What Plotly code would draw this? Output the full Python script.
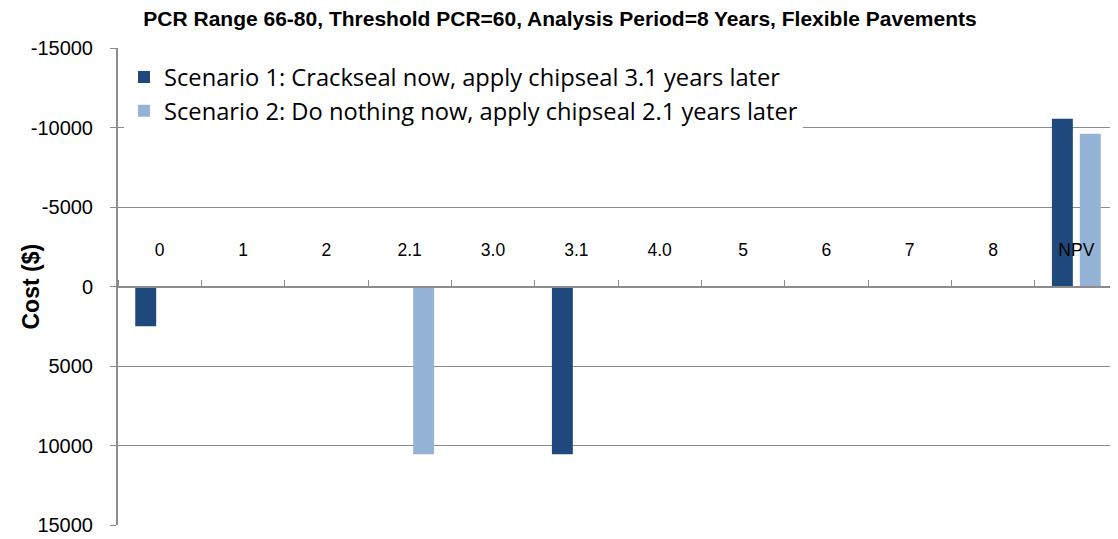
import plotly.graph_objects as go

categories = ["0", "1", "2", "2.1", "3.0", "3.1", "4.0", "5", "6", "7", "8", "NPV"]
scenario1 = [2500, None, None, None, None, 10550, None, None, None, None, None, -10550]
scenario2 = [None, None, None, 10550, None, None, None, None, None, None, None, -9600]
name1 = "Scenario 1: Crackseal now, apply chipseal 3.1 years later"
name2 = "Scenario 2: Do nothing now, apply chipseal 2.1 years later"
y_ticks = [-15000, -10000, -5000, 0, 5000, 10000, 15000]
y_tick_text = ["-15000", "-10000", "-5000", "0", "5000", "10000", "15000"]

FONT = "Liberation Sans, Arial, sans-serif"
GRID = "#8c8c8c"
# the page body has an 8px margin; figure sized so the plot lands where the reference has it
W, H = 1110, 531

fig = go.Figure()
fig.add_trace(go.Bar(x=categories, y=scenario1, name=name1,
                     marker=dict(color="#1F497D", line=dict(width=0))))
fig.add_trace(go.Bar(x=categories, y=scenario2, name=name2,
                     marker=dict(color="#95B3D7", line=dict(width=0))))

fig.update_layout(
    width=W, height=H,
    margin=dict(l=110, r=0, t=40, b=14, autoexpand=False),
    paper_bgcolor="white", plot_bgcolor="white",
    barmode="group", bargap=0.33, bargroupgap=0.25,
    font=dict(family=FONT, color="black"),
    title=dict(text="<b>PCR Range 66-80, Threshold PCR=60, Analysis Period=8 Years, Flexible Pavements</b>",
               x=(560 - 8) / W, xref="container", y=1 - 11 / H, yref="container",
               yanchor="middle", xanchor="center", font=dict(size=21, family=FONT)),
    legend=dict(x=0.006, y=0.985, xanchor="left", yanchor="top",
                bgcolor="white", font=dict(size=23.7, family="Open Sans, sans-serif"),
                itemwidth=30, tracegroupgap=0),
    showlegend=True,
    annotations=[dict(text="<b>Cost ($)</b>", textangle=-90, x=(30 - 118) / 1000, xref="paper",
                      y=0.5, yref="paper", xanchor="center", yanchor="middle",
                      showarrow=False, font=dict(size=23, family=FONT))],
)
fig.update_xaxes(
    type="category", anchor="free", position=0.5, side="top",
    showline=True, linecolor=GRID, linewidth=2,
    ticks="outside", tickson="boundaries", ticklen=6, tickcolor=GRID,
    tickfont=dict(size=17.5, family=FONT), ticklabelstandoff=23,
    showgrid=False, zeroline=False, automargin=False,
)
fig.update_yaxes(
    range=[15000, -15000], tickvals=y_ticks, ticktext=y_tick_text,
    showgrid=True, gridcolor=GRID, gridwidth=1,
    showline=True, linecolor=GRID, linewidth=2,
    ticks="outside", ticklen=6, tickcolor=GRID, ticklabelstandoff=13,
    tickfont=dict(size=20, family=FONT), zeroline=False, automargin=False,
)

fig.write_html("out.html")
